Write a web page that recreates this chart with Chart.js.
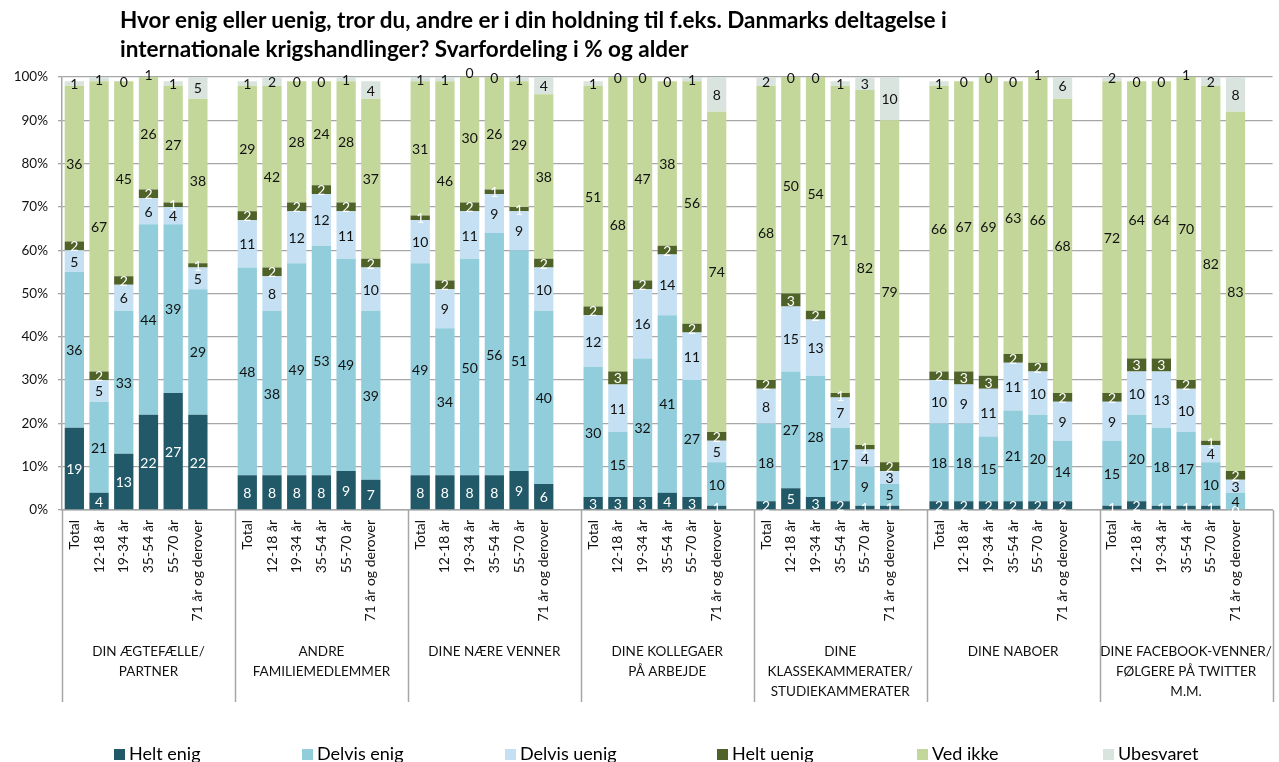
<!DOCTYPE html>
<html lang="da">
<head>
<meta charset="utf-8">
<title>Svarfordeling i % og alder</title>
<script src="https://cdn.jsdelivr.net/npm/chart.js@4.4.1/dist/chart.umd.min.js"></script>
<style>
    html, body { margin: 0; padding: 0; background: #fff; overflow: hidden; }
    #wrap { position: relative; width: 1287px; height: 762px; }
    #title {
        position: absolute; left: 120px; top: 5px;
        font: bold 22.5px Lato, "Open Sans", sans-serif; line-height: 29px; color: #000;
        white-space: nowrap;
    }
    #legend { position: absolute; left: 0; top: 742px; width: 1279px; height: 30px; }
    .legend-item {
        position: absolute; top: 0; padding-left: 15px;
        font: 18px Lato, sans-serif; line-height: 22px; color: #000; white-space: nowrap;
    }
    .legend-item span.box { position: absolute; left: 0; top: 7px; width: 11px; height: 11px; }
</style>
</head>
<body>
<div id="wrap">
    <canvas id="svarChart"></canvas>
    <div id="title">Hvor enig eller uenig, tror du, andre er i din holdning til f.eks. Danmarks deltagelse i<br>internationale krigshandlinger? Svarfordeling i % og alder</div>
    <div id="legend"></div>
</div>
<script>
// Grupper (hvem man tænker på) og aldersgrupper
const groups = [
    ["DIN ÆGTEFÆLLE/", "PARTNER"],
    ["ANDRE", "FAMILIEMEDLEMMER"],
    ["DINE NÆRE VENNER"],
    ["DINE KOLLEGAER", "PÅ ARBEJDE"],
    ["DINE", "KLASSEKAMMERATER/", "STUDIEKAMMERATER"],
    ["DINE NABOER"],
    ["DINE FACEBOOK-VENNER/", "FØLGERE PÅ TWITTER", "M.M."],
];
const ageGroups = ["Total", "12-18 år", "19-34 år", "35-54 år", "55-70 år", "71 år og derover"];

const seriesNames = ["Helt enig", "Delvis enig", "Delvis uenig", "Helt uenig", "Ved ikke", "Ubesvaret"];
const seriesColors = ["#215968", "#92CDDC", "#C5E0F2", "#4F6228", "#C4D79B", "#DAE4DE"];
const labelColors = ["#ffffff", "#111111", "#111111", "#ffffff", "#111111", "#111111"];

// Procent pr. gruppe, 6 aldersgrupper hver
const heltEnig = [19, 4, 13, 22, 27, 22,  8, 8, 8, 8, 9, 7,  8, 8, 8, 8, 9, 6,  3, 3, 3, 4, 3, 1,  2, 5, 3, 2, 1, 1,  2, 2, 2, 2, 2, 2,  1, 2, 1, 1, 1, 0];
const delvisEnig = [36, 21, 33, 44, 39, 29,  48, 38, 49, 53, 49, 39,  49, 34, 50, 56, 51, 40,  30, 15, 32, 41, 27, 10,  18, 27, 28, 17, 9, 5,  18, 18, 15, 21, 20, 14,  15, 20, 18, 17, 10, 4];
const delvisUenig = [5, 5, 6, 6, 4, 5,  11, 8, 12, 12, 11, 10,  10, 9, 11, 9, 9, 10,  12, 11, 16, 14, 11, 5,  8, 15, 13, 7, 4, 3,  10, 9, 11, 11, 10, 9,  9, 10, 13, 10, 4, 3];
const heltUenig = [2, 2, 2, 2, 1, 1,  2, 2, 2, 2, 2, 2,  1, 2, 2, 1, 1, 2,  2, 3, 2, 2, 2, 2,  2, 3, 2, 1, 1, 2,  2, 3, 3, 2, 2, 2,  2, 3, 3, 2, 1, 2];
const vedIkke = [36, 67, 45, 26, 27, 38,  29, 42, 28, 24, 28, 37,  31, 46, 30, 26, 29, 38,  51, 68, 47, 38, 56, 74,  68, 50, 54, 71, 82, 79,  66, 67, 69, 63, 66, 68,  72, 64, 64, 70, 82, 83];
const ubesvaret = [1, 1, 0, 1, 1, 5,  1, 2, 0, 0, 1, 4,  1, 1, 0, 0, 1, 4,  1, 0, 0, 0, 1, 8,  2, 0, 0, 1, 3, 10,  1, 0, 0, 0, 1, 6,  2, 0, 0, 1, 2, 8];

const yTicks = [0, 10, 20, 30, 40, 50, 60, 70, 80, 90, 100];

const SLOTS = ageGroups.length + 1; // one empty slot after each group

// Spread a 42-value series over the category axis, leaving a gap after each group
function withGaps(values) {
    const out = [];
    groups.forEach((g, gi) => {
        ageGroups.forEach((a, ai) => out.push(values[gi * ageGroups.length + ai]));
        out.push(null);
    });
    return out;
}

const labels = [];
groups.forEach(() => {
    ageGroups.forEach((a) => labels.push(a));
    labels.push("");
});

const seriesValues = [heltEnig, delvisEnig, delvisUenig, heltUenig, vedIkke, ubesvaret];

/* Writes each segment's value in its middle */
const segmentLabels = {
    id: "segmentLabels",
    afterDatasetsDraw(chart) {
        const ctx = chart.ctx;
        ctx.save();
        ctx.font = "14px Lato, sans-serif";
        ctx.textAlign = "center";
        ctx.textBaseline = "middle";
        chart.data.datasets.forEach((ds, i) => {
            chart.getDatasetMeta(i).data.forEach((bar, j) => {
                const v = ds.data[j];
                if (v === null || v === undefined) return;
                ctx.fillStyle = labelColors[i];
                ctx.fillText(String(v), bar.x, (bar.y + bar.base) / 2 + 1);
            });
        });
        ctx.restore();
    },
};

/* Group separators below the axis and the group names */
const groupAxis = {
    id: "groupAxis",
    afterDraw(chart) {
        const ctx = chart.ctx;
        const xs = chart.scales.x;
        const area = chart.chartArea;
        const slot = xs.getPixelForValue(1) - xs.getPixelForValue(0);
        ctx.save();
        ctx.strokeStyle = "#a6a6a6";
        ctx.lineWidth = 1.5;
        for (let g = 0; g <= groups.length; g++) {
            const x = Math.round(xs.getPixelForValue(g * SLOTS) - slot / 2) + 0.5;
            ctx.beginPath();
            ctx.moveTo(x, area.bottom);
            ctx.lineTo(x, 702);
            ctx.stroke();
        }
        ctx.font = "13.5px Lato, sans-serif";
        ctx.fillStyle = "#111";
        ctx.textAlign = "center";
        ctx.textBaseline = "middle";
        groups.forEach((lines, g) => {
            const left = xs.getPixelForValue(g * SLOTS) - slot / 2;
            const cx = left + (slot * SLOTS) / 2;
            lines.forEach((line, li) => ctx.fillText(line, cx, 652 + li * 20));
        });
        ctx.restore();
    },
};

function buildLegend() {
    const legend = document.getElementById("legend");
    const lefts = [114, 302, 505, 717, 917, 1103];
    seriesNames.forEach((name, i) => {
        const item = document.createElement("div");
        item.className = "legend-item";
        item.style.left = lefts[i] + "px";
        item.innerHTML = '<span class="box" style="background:' + seriesColors[i] + '"></span>' + name;
        legend.appendChild(item);
    });
}

document.addEventListener("DOMContentLoaded", function () {
    buildLegend();
    const ctx = document.getElementById("svarChart").getContext("2d");

    new Chart(ctx, {
        type: "bar",
        data: {
            labels: labels,
            datasets: seriesNames.map((name, i) => ({
                label: name,
                data: withGaps(seriesValues[i]),
                backgroundColor: seriesColors[i],
                borderWidth: 0,
                barPercentage: 0.78,
                categoryPercentage: 1.0,
            })),
        },
        options: {
            responsive: true,
            maintainAspectRatio: false,
            animation: false,
            layout: { padding: { top: 77, left: 0, right: 0, bottom: 0 } },
            plugins: {
                legend: { display: false },
                title: { display: false },
                tooltip: { enabled: false },
            },
            scales: {
                x: {
                    stacked: true,
                    grid: { display: false, drawTicks: false },
                    border: { display: true, color: "#a6a6a6", width: 1.5 },
                    ticks: {
                        autoSkip: false,
                        minRotation: 90,
                        maxRotation: 90,
                        padding: 10,
                        color: "#111",
                        font: { family: "Lato, sans-serif", size: 14 },
                    },
                    afterFit: (scale) => { scale.height = 252; },
                },
                y: {
                    stacked: true,
                    min: 0,
                    max: 100,
                    afterBuildTicks: (scale) => { scale.ticks = yTicks.map((v) => ({ value: v })); },
                    grid: { color: "#a6a6a6", lineWidth: 1.3, tickLength: 4 },
                    border: { display: true, color: "#a6a6a6", width: 1.5 },
                    ticks: {
                        padding: 10,
                        color: "#111",
                        font: { family: "Lato, sans-serif", size: 13.5 },
                        callback: (v) => v + "%",
                    },
                    afterFit: (scale) => { scale.width = 62; },
                },
            },
        },
        plugins: [segmentLabels, groupAxis],
    });
});
</script>
</body>
</html>
